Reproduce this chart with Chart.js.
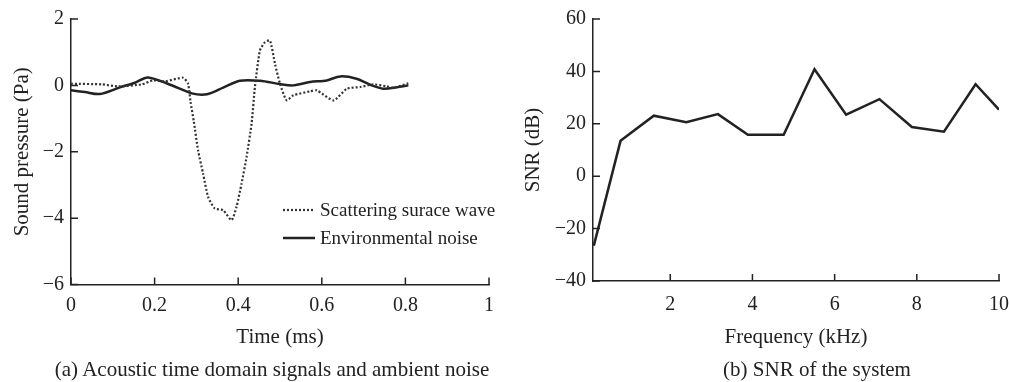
<!DOCTYPE html>
<html>
<head>
<meta charset="utf-8">
<script src="https://cdn.jsdelivr.net/npm/chart.js@4.4.1/dist/chart.umd.min.js"></script>
<style>
  body { margin: 0; background: #fff; width: 1009px; height: 382px; position: relative; overflow: hidden; }
  canvas { position: absolute; top: 0; }
  .caption { position: absolute; top: 357px; width: 500px; font: 21px "Liberation Serif", serif; color: #222; text-align: center; white-space: nowrap; }
</style>
</head>
<body>
<canvas id="left" width="503" height="360" style="left:0"></canvas>
<canvas id="right" width="521" height="360" style="left:500px"></canvas>
<div class="caption" style="left:22px">(a) Acoustic time domain signals and ambient noise</div>
<div class="caption" style="left:567px">(b) SNR of the system</div>
<script>
// (a) time domain signals
const waveTime = [0, 0.074, 0.112, 0.169, 0.196, 0.225, 0.268, 0.280, 0.286, 0.294, 0.304, 0.316, 0.328,
  0.344, 0.364, 0.384, 0.396, 0.408, 0.420, 0.432, 0.440, 0.452, 0.464, 0.476, 0.488, 0.500, 0.516,
  0.532, 0.572, 0.588, 0.628, 0.660, 0.692, 0.723, 0.755, 0.771, 0.807];
const waveValues = [0.05, 0.03, -0.03, 0.03, 0.15, 0.12, 0.23, 0.05, -0.5, -1.1, -1.96, -2.66, -3.36,
  -3.71, -3.76, -4.06, -3.66, -2.96, -2.16, -1.15, -0.05, 1.05, 1.3, 1.35, 0.65, 0.05, -0.45,
  -0.3, -0.18, -0.15, -0.45, -0.1, -0.05, 0.03, -0.03, -0.07, 0.06];
const noiseTime = [0, 0.033, 0.069, 0.117, 0.153, 0.184, 0.237, 0.289, 0.325, 0.364, 0.404, 0.452,
  0.5, 0.531, 0.572, 0.612, 0.644, 0.683, 0.719, 0.747, 0.779, 0.807];
const noiseValues = [-0.15, -0.2, -0.26, -0.06, 0.08, 0.24, 0.02, -0.24, -0.27, -0.07, 0.14, 0.14,
  0.04, 0, 0.1, 0.15, 0.27, 0.2, 0, -0.1, -0.06, 0];
const timeTicks = [0, 0.2, 0.4, 0.6, 0.8, 1];
const pressureTicks = [-6, -4, -2, 0, 2];

// (b) SNR
const freqKHz = [0.14, 0.79, 1.60, 2.39, 3.16, 3.89, 4.76, 5.51, 6.28, 7.09, 7.88, 8.66, 9.43, 10.0];
const snrDb = [-26.5, 13.5, 23.1, 20.6, 23.7, 15.8, 15.8, 40.8, 23.5, 29.4, 18.8, 17.0, 35.1, 25.4];
const freqTicks = [2, 4, 6, 8, 10];
const snrTicks = [-40, -20, 0, 20, 40, 60];

const serif = '"Liberation Serif", "Times New Roman", serif';
const ink = '#222';
Chart.defaults.font.family = serif;
Chart.defaults.color = ink;
Chart.defaults.animation = false;

const minus = v => String(v).replace('-', '\u2212');
const points = (xs, ys) => xs.map((x, i) => ({ x: x, y: ys[i] }));
const fixTicks = list => scale => { scale.ticks = list.map(v => ({ value: v })); };

// tick marks pointing into the plot area
const inwardTicks = {
  id: 'inwardTicks',
  afterDraw(chart) {
    const ctx = chart.ctx;
    const { x, y } = chart.scales;
    ctx.save();
    ctx.strokeStyle = ink;
    ctx.lineWidth = 1.5;
    ctx.beginPath();
    x.ticks.forEach(t => {
      const px = x.getPixelForValue(t.value);
      ctx.moveTo(px, x.top);
      ctx.lineTo(px, x.top - 7);
    });
    y.ticks.forEach(t => {
      const py = y.getPixelForValue(t.value);
      ctx.moveTo(y.right, py);
      ctx.lineTo(y.right + 7, py);
    });
    ctx.stroke();
    ctx.restore();
  }
};

// legend drawn inside the plot, lower right
const insideLegend = {
  id: 'insideLegend',
  afterDraw(chart, args, opts) {
    if (!opts.show) return;
    const ctx = chart.ctx;
    ctx.save();
    ctx.font = '19px ' + serif;
    ctx.textBaseline = 'middle';
    chart.data.datasets.forEach((ds, i) => {
      const yy = opts.y + i * 28;
      ctx.strokeStyle = ds.borderColor;
      ctx.lineWidth = ds.borderWidth;
      ctx.setLineDash(ds.borderDash || []);
      ctx.beginPath();
      ctx.moveTo(opts.x, yy);
      ctx.lineTo(opts.x + 32, yy);
      ctx.stroke();
      ctx.setLineDash([]);
      ctx.fillStyle = ink;
      ctx.fillText(ds.label, opts.x + 37, yy + 1);
    });
    ctx.restore();
  }
};

function axes(cfg) {
  return {
    x: {
      type: 'linear', min: cfg.xMin, max: cfg.xMax,
      afterBuildTicks: fixTicks(cfg.xTicks),
      afterFit: s => { s.height = 360 - cfg.bottom; },
      grid: { display: false, drawTicks: false },
      border: { display: true, color: ink, width: 1.5 },
      ticks: { padding: cfg.xTickPad, font: { size: 20 }, callback: v => minus(v) },
      title: { display: true, text: cfg.xTitle, font: { size: 21 }, padding: { bottom: 10 } }
    },
    y: {
      type: 'linear', min: cfg.yMin, max: cfg.yMax,
      afterBuildTicks: fixTicks(cfg.yTicks),
      afterFit: s => { s.width = cfg.left; },
      grid: { display: false, drawTicks: false },
      border: { display: true, color: ink, width: 1.5 },
      ticks: { padding: 7, font: { size: 20 }, callback: v => minus(v) },
      title: { display: true, text: cfg.yTitle, font: { size: 21 }, padding: { top: cfg.yTitlePad } }
    }
  };
}

new Chart(document.getElementById('left'), {
  type: 'line',
  data: {
    datasets: [
      { label: 'Scattering surace wave', data: points(waveTime, waveValues),
        borderColor: '#333', borderWidth: 2.2, borderDash: [2, 2], pointRadius: 0, tension: 0.2 },
      { label: 'Environmental noise', data: points(noiseTime, noiseValues),
        borderColor: ink, borderWidth: 2.5, pointRadius: 0, tension: 0.3 }
    ]
  },
  options: {
    responsive: false,
    layout: { padding: { top: 19, right: 14, left: 0, bottom: 0 } },
    scales: axes({ xMin: 0, xMax: 1, yMin: -6, yMax: 2, xTicks: timeTicks, yTicks: pressureTicks,
      left: 71, bottom: 284.5, xTickPad: 9, xTitle: 'Time (ms)', yTitle: 'Sound pressure (Pa)', yTitlePad: 10 }),
    plugins: { legend: { display: false }, tooltip: { enabled: false },
      insideLegend: { show: true, x: 283, y: 210 } }
  },
  plugins: [inwardTicks, insideLegend]
});

new Chart(document.getElementById('right'), {
  type: 'line',
  data: {
    datasets: [
      { label: 'SNR', data: points(freqKHz, snrDb),
        borderColor: ink, borderWidth: 2.5, pointRadius: 0, tension: 0 }
    ]
  },
  options: {
    responsive: false,
    layout: { padding: { top: 14.7, right: 22, left: 0, bottom: 0 } },
    scales: axes({ xMin: 0.12, xMax: 10, yMin: -40, yMax: 60, xTicks: freqTicks, yTicks: snrTicks,
      left: 93, bottom: 281, xTickPad: 12, xTitle: 'Frequency (kHz)', yTitle: 'SNR (dB)', yTitlePad: 21 }),
    plugins: { legend: { display: false }, tooltip: { enabled: false } }
  },
  plugins: [inwardTicks]
});
</script>
</body>
</html>
